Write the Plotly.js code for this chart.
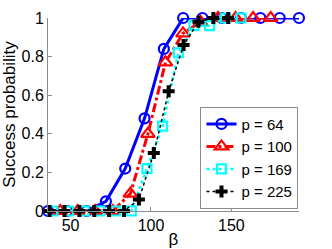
<!DOCTYPE html>
<html>
<head>
<meta charset="utf-8">
<script src="https://cdn.plot.ly/plotly-3.0.1.min.js"></script>
<style>html,body{margin:0;padding:0;background:#fff;}#chart{width:332px;height:249px;}</style>
</head>
<body>
<div id="chart"></div>
<script>
// Data
var beta64 = [36, 48, 60, 72, 84, 96, 108, 120, 132, 144, 156, 168, 180, 192];
var succ64 = [0, 0, 0, 0.05, 0.22, 0.48, 0.84, 1, 1, 1, 1, 1, 1, 1];

var beta100 = [43.6, 54.5, 65.4, 76.3, 87.2, 98.1, 109, 119.9, 130.8, 141.7, 152.6, 163.5, 174.4];
var succ100 = [0, 0, 0, 0, 0.09, 0.40, 0.77, 0.92, 0.98, 1, 1, 1, 1];

var beta169 = [39, 48.75, 58.5, 68.25, 78, 87.75, 97.5, 107.25, 117, 126.75, 136.5, 146.25, 156];
var succ169 = [0, 0, 0, 0, 0, 0, 0.22, 0.44, 0.82, 0.96, 0.96, 1, 1];

var beta225 = [37, 46.25, 55.5, 64.75, 74, 83.25, 92.5, 101.75, 111, 120.25, 129.5, 138.75, 148];
var succ225 = [0, 0, 0, 0, 0, 0, 0.06, 0.30, 0.62, 0.86, 0.98, 1, 1];

var seriesNames = ['p = 64', 'p = 100', 'p = 169', 'p = 225'];
var xTicks = [50, 100, 150];
var yTicks = [0, 0.2, 0.4, 0.6, 0.8, 1];
var yTickText = ['0', '0.2', '0.4', '0.6', '0.8', '1'];

var FONT = 'Liberation Sans, Arial, Helvetica, sans-serif';
var AX = '#8c8c8c';

var traces = [
  {x: beta64, y: succ64, name: seriesNames[0], mode: 'lines+markers', cliponaxis: false,
   line: {color: '#0000ff', width: 3, dash: 'solid'},
   marker: {symbol: 'circle-open', size: 10, color: '#0000ff', line: {width: 2.2, color: '#0000ff'}}},
  {x: beta100, y: succ100, name: seriesNames[1], mode: 'lines+markers', cliponaxis: false,
   line: {color: '#ff0000', width: 3, dash: 'dashdot'},
   marker: {symbol: 'triangle-up-open', size: 12, color: '#ff0000', line: {width: 2.2, color: '#ff0000'}}},
  {x: beta169, y: succ169, name: seriesNames[2], mode: 'lines+markers', cliponaxis: false,
   line: {color: '#00ffff', width: 2.5, dash: 'dot'},
   marker: {symbol: 'square-open', size: 9, color: '#00ffff', line: {width: 2.2, color: '#00ffff'}}},
  {x: beta225, y: succ225, name: seriesNames[3], mode: 'lines+markers', cliponaxis: false,
   line: {color: '#000000', width: 1.5, dash: 'dot'},
   marker: {symbol: 'cross', size: 10, color: '#000000', line: {width: 0}}}
];

var layout = {
  width: 332, height: 249,
  margin: {l: 48, r: 33, t: 18, b: 38, pad: 0},
  paper_bgcolor: '#ffffff', plot_bgcolor: '#ffffff',
  font: {family: FONT, size: 16, color: '#000000'},
  showlegend: true,
  legend: {
    x: 0.998, y: 0.012, xanchor: 'right', yanchor: 'bottom',
    bgcolor: '#ffffff', bordercolor: AX, borderwidth: 1,
    font: {family: FONT, size: 15, color: '#000000'},
    tracegroupgap: 0, itemwidth: 30
  },
  xaxis: {
    range: [36, 192], tickmode: 'array', tickvals: xTicks, ticktext: xTicks.map(String),
    showgrid: false, zeroline: false, showline: true, linecolor: AX, linewidth: 1,
    ticks: 'inside', ticklen: 4, tickcolor: AX, mirror: false,
    tickfont: {family: FONT, size: 16, color: '#000000'},
    title: {text: 'β', font: {family: FONT, size: 17, color: '#000000'}, standoff: 2},
    automargin: false
  },
  yaxis: {
    range: [0, 1], tickmode: 'array', tickvals: yTicks, ticktext: yTickText,
    showgrid: false, zeroline: false, showline: true, linecolor: AX, linewidth: 1,
    ticks: 'inside', ticklen: 4, tickcolor: AX, mirror: false,
    tickfont: {family: FONT, size: 16, color: '#000000'},
    title: {text: 'Success probability', font: {family: FONT, size: 17, color: '#000000'}, standoff: 4},
    automargin: false
  }
};

Plotly.newPlot('chart', traces, layout, {staticPlot: true, displayModeBar: false});
</script>
</body>
</html>
